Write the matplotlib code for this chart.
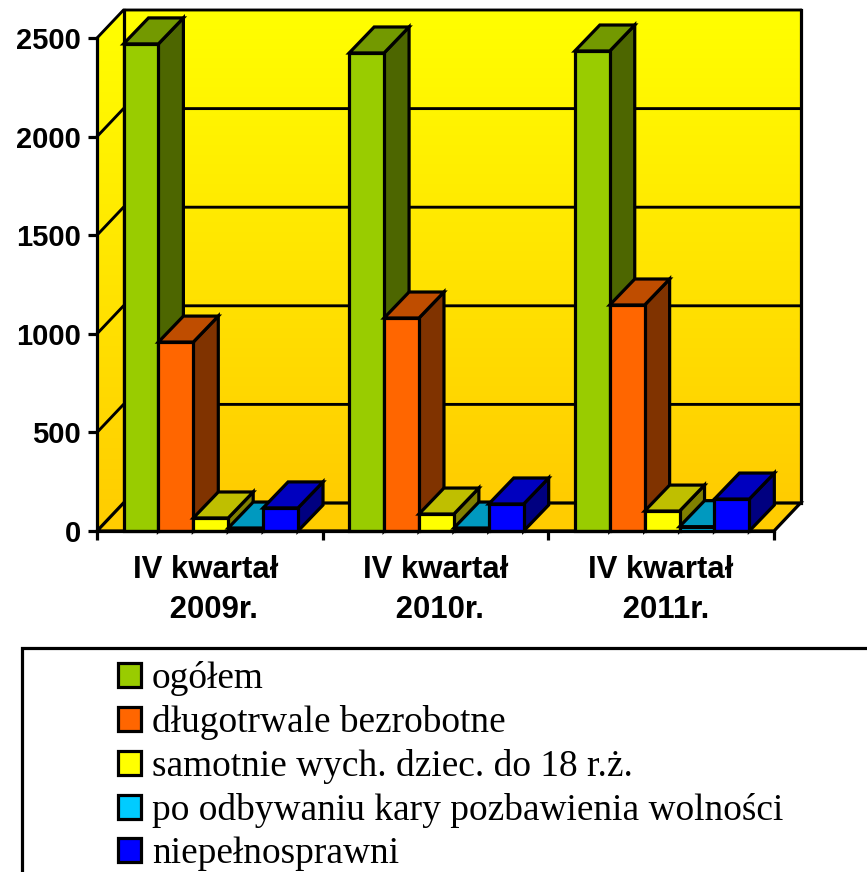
import matplotlib
matplotlib.use('Agg')
import matplotlib.pyplot as plt
import numpy as np
from matplotlib.colors import LinearSegmentedColormap
from matplotlib.patches import Patch, Polygon, Rectangle

W, H = 867, 872

categories = ['IV kwartał \n 2009r.', 'IV kwartał\n 2010r.', 'IV kwartał\n 2011r.']
series = ['ogółem', 'długotrwale bezrobotne', 'samotnie wych. dziec. do 18 r.ż.',
          'po odbywaniu kary pozbawienia wolności', 'niepełnosprawni']
ogolem = [2470, 2424, 2434]
dlugotrwale = [958, 1080, 1146]
samotnie = [66, 86, 101]
po_karze = [15, 15, 22]
niepelnosprawni = [117, 137, 162]
values = [ogolem, dlugotrwale, samotnie, po_karze, niepelnosprawni]

front = ['#99CC00', '#FF6600', '#FFFF00', '#00CCFF', '#0000FF']
top = ['#739900', '#BF4D00', '#BFBF00', '#0099BF', '#0000BF']
side = ['#4D6600', '#803300', '#808000', '#006680', '#000080']

fig = plt.figure(figsize=(W / 100, H / 100), dpi=100)
ax = fig.add_axes([97 / W, 1 - 531 / H, 677 / W, 493 / H])
ax.set_xlim(0, 3)
ax.set_ylim(0, 2500)
ax.patch.set_visible(False)

# pixels to data units for the fake depth
xu = 3 / 677
yu = 2500 / 493
wall_dx = 26.5 * xu
wall_dy = 28 * yu
bar_dx = 25 * xu
bar_dy = 26 * yu
bar_w = 34.9 * xu
first = 26.5 * xu
lw = 2.3

cmap = LinearSegmentedColormap.from_list('wall', ['#FFCC00', '#FFFF00'])
grad = np.linspace(0, 1, 256).reshape(-1, 1)
ymax = 2500 + wall_dy

# back wall and left wall share one gradient, clipped to their outline
im = ax.imshow(grad, origin='lower', cmap=cmap, aspect='auto', interpolation='bilinear',
               extent=(0, 3 + wall_dx, wall_dy, ymax), zorder=1)
im.set_clip_box(fig.bbox)
im.set_clip_path(Polygon([(wall_dx, wall_dy), (3 + wall_dx, wall_dy), (3 + wall_dx, ymax), (wall_dx, ymax)],
                         transform=ax.transData))
im2 = ax.imshow(grad, origin='lower', cmap=cmap, aspect='auto', interpolation='bilinear',
                extent=(0, wall_dx, 0, ymax), zorder=1)
im2.set_clip_box(fig.bbox)
im2.set_clip_path(Polygon([(0, 0), (wall_dx, wall_dy), (wall_dx, ymax), (0, 2500)], transform=ax.transData))
ax.set_xlim(0, 3)
ax.set_ylim(0, 2500)

# floor
ax.add_patch(Polygon([(0, 0), (wall_dx, wall_dy), (3 + wall_dx, wall_dy), (3, 0)], fc='#FFCC00',
                     ec='black', lw=lw, zorder=2, clip_on=False))

# walls and gridlines
for t in [500, 1000, 1500, 2000, 2500]:
    ax.plot([0, wall_dx, 3 + wall_dx], [t, t + wall_dy, t + wall_dy], color='black', lw=lw * 0.9, zorder=3,
            clip_on=False, solid_capstyle='projecting')
ax.plot([wall_dx, wall_dx], [ymax, wall_dy], color='black', lw=lw, zorder=3, clip_on=False)
ax.plot([3 + wall_dx, 3 + wall_dx], [wall_dy, ymax], color='black', lw=lw, zorder=3, clip_on=False)

# bars, left to right so that each one covers the side of the one before
z = 4
for g in range(len(categories)):
    for s in range(len(series)):
        v = values[s][g]
        x0 = g + first + s * bar_w
        x1 = x0 + bar_w
        ax.add_patch(Polygon([(x1, 0), (x1 + bar_dx, bar_dy), (x1 + bar_dx, v + bar_dy), (x1, v)],
                             fc=side[s], ec='black', lw=lw, zorder=z, clip_on=False))
        ax.add_patch(Polygon([(x0, v), (x0 + bar_dx, v + bar_dy), (x1 + bar_dx, v + bar_dy), (x1, v)],
                             fc=top[s], ec='black', lw=lw, zorder=z, clip_on=False))
        ax.bar(x0, v, bar_w, align='edge', color=front[s], edgecolor='black', lw=lw, zorder=z + 0.5,
               clip_on=False)
        z += 1

for sp in ['top', 'right']:
    ax.spines[sp].set_visible(False)
for sp in ['left', 'bottom']:
    ax.spines[sp].set_linewidth(lw)
    ax.spines[sp].set_zorder(z + 1)

ax.set_xticks([0, 1, 2, 3])
ax.set_xticklabels([])
ax.set_xticks([0.5, 1.5, 2.5], categories, minor=True)
ax.set_yticks([0, 500, 1000, 1500, 2000, 2500])
ax.tick_params(axis='x', which='major', length=6.5, width=lw, direction='out')
ax.tick_params(axis='x', which='minor', length=0, pad=17, labelsize=22.4)
ax.tick_params(axis='y', length=6.5, width=lw, direction='out', pad=5, labelsize=21)
for lab in ax.get_xticklabels(minor=True) + ax.get_yticklabels():
    lab.set_fontfamily('Liberation Sans')
    lab.set_fontweight('bold')
for lab in ax.get_xticklabels(minor=True):
    lab.set_linespacing(1.45)

# legend box runs off the bottom and right of the picture
fig.add_artist(Rectangle((22 / W, -0.05), 1, 1 - 648 / H + 0.05, transform=fig.transFigure,
                         fc='white', ec='black', lw=lw))
handles = [Patch(fc=c, ec='black', lw=lw) for c in front]
fs = 26.9
fig.legend(handles, series, loc='upper left', bbox_to_anchor=(118 / W, 1 - 661 / H), frameon=False,
           prop={'family': 'Liberation Serif', 'size': fs}, handlelength=0.62, handleheight=0.62,
           handletextpad=0.29, labelspacing=0.24, borderpad=0, borderaxespad=0)

fig.savefig('out.png', dpi=100)
